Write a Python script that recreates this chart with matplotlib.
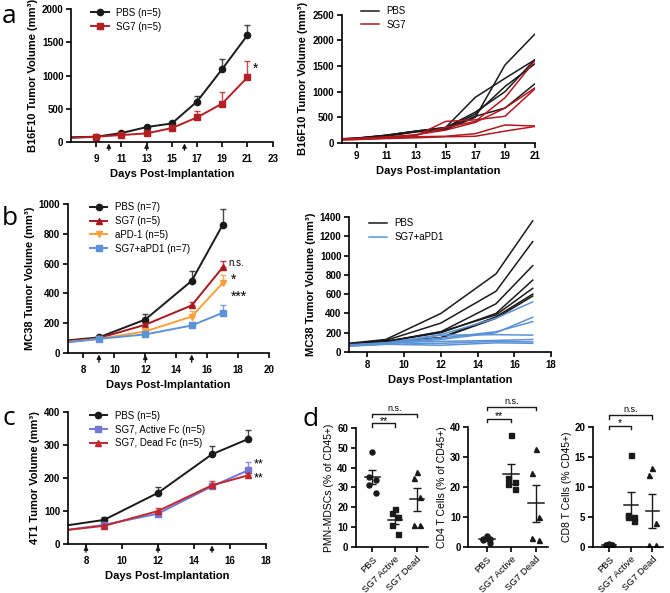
import numpy as np
import matplotlib
matplotlib.use('Agg')
import matplotlib.pyplot as plt
import matplotlib.transforms as mtransforms

plt.rcParams['font.family'] = ['Liberation Sans', 'DejaVu Sans']
plt.rcParams['font.size'] = 7
plt.rcParams['axes.linewidth'] = 1.2
plt.rcParams['xtick.major.width'] = 1.2
plt.rcParams['ytick.major.width'] = 1.2
plt.rcParams['xtick.major.size'] = 3.5
plt.rcParams['ytick.major.size'] = 3.5

BLACK = '#1a1a1a'

# panel a, B16F10 means
A_DAYS = [7, 9, 11, 13, 15, 17, 19, 21]
A_PBS = [72, 80, 135, 225, 280, 610, 1100, 1610]
A_PBS_ERR = [0, 10, 15, 20, 20, 80, 150, 150]
A_SG7 = [62, 80, 105, 130, 210, 370, 580, 975]
A_SG7_ERR = [0, 20, 15, 15, 15, 90, 170, 240]
A_DOSE = [10, 13, 16]

# panel a, individual mice
A_PBS_MICE = [
    [60, 90, 150, 230, 300, 890, 1260, 1620],
    [55, 85, 140, 220, 260, 500, 1520, 2120],
    [65, 90, 145, 225, 290, 560, 1100, 1540],
    [60, 80, 130, 215, 270, 520, 680, 1150],
    [70, 95, 150, 230, 300, 600, 1000, 1620],
]
A_SG7_MICE = [
    [60, 80, 110, 150, 300, 420, 880, 1600],
    [65, 85, 115, 160, 250, 400, 680, 1070],
    [60, 80, 105, 140, 420, 450, 520, 1050],
    [55, 70, 95, 120, 130, 180, 350, 330],
    [50, 65, 85, 100, 120, 130, 230, 320],
]

# panel b, MC38 means
B_DAYS = [7, 9, 12, 15, 17]
B_PBS = [85, 105, 225, 485, 860]
B_PBS_ERR = [0, 10, 35, 65, 110]
B_SG7 = [80, 100, 190, 320, 575]
B_SG7_ERR = [0, 8, 15, 25, 40]
B_PD1 = [75, 95, 145, 245, 470]
B_PD1_ERR = [0, 8, 15, 35, 55]
B_COMBO = [72, 95, 125, 185, 270]
B_COMBO_ERR = [0, 8, 10, 20, 50]
B_DOSE = [9, 12, 15]

# panel b, individual mice
B_PBS_MICE = [
    [90, 130, 400, 810, 1360],
    [85, 120, 300, 630, 1145],
    [80, 110, 210, 500, 895],
    [85, 110, 200, 400, 745],
    [80, 105, 210, 385, 660],
    [75, 100, 150, 365, 600],
    [80, 105, 145, 350, 580],
]
B_COMBO_MICE = [
    [75, 95, 180, 350, 520],
    [70, 90, 130, 200, 360],
    [70, 90, 145, 210, 315],
    [65, 85, 175, 180, 175],
    [70, 95, 110, 120, 130],
    [65, 80, 90, 110, 105],
    [60, 80, 70, 95, 90],
]

# panel c, 4T1 means
C_DAYS = [7, 9, 12, 15, 17]
C_PBS = [57, 73, 155, 272, 318]
C_PBS_ERR = [0, 8, 17, 24, 28]
C_ACTIVE = [43, 58, 92, 175, 223]
C_ACTIVE_ERR = [0, 6, 8, 10, 25]
C_DEAD = [43, 55, 100, 178, 208]
C_DEAD_ERR = [0, 5, 8, 12, 8]
C_DOSE = [8, 12, 15]

# panel d, flow cytometry
D_GROUPS = ['PBS', 'SG7 Active', 'SG7 Dead']
D_MDSC = [[48, 35.5, 34, 31, 27.4], [19, 17, 15, 11, 6.5], [38, 35, 25, 11, 11]]
D_CD4 = [[3.8, 2.6, 2.4, 1.2, 2.7], [37.2, 23, 21.5, 21, 19.2], [32.8, 24.5, 10, 2.3, 3.1]]
D_CD8 = [[0.5, 0.3, 0.4, 0.35, 0.3], [15.3, 4.4, 5.3, 5.0, 5.0], [13.1, 12.0, 4.0, 0.4, 0.4]]


def style(ax, xbold=True):
    ax.spines['top'].set_visible(False)
    ax.spines['right'].set_visible(False)
    ax.tick_params(labelsize=7, pad=2)
    for t in ax.get_yticklabels():
        t.set_fontweight('bold')
    if xbold:
        for t in ax.get_xticklabels():
            t.set_fontweight('bold')


def mean_curve(ax, x, y, err, color, marker, label, ms=4.5):
    ax.errorbar(x[1:], y[1:], yerr=[np.zeros(len(err) - 1), err[1:]], fmt='none',
                ecolor=color, elinewidth=1, capsize=2.5, capthick=1, alpha=0.8)
    ax.plot(x, y, color=color, lw=1.4, marker=marker, ms=ms,
            markevery=list(range(1, len(x))), label=label)


def dose_arrows(ax, days):
    for d in days:
        ax.annotate('', xy=(d, -0.01), xytext=(d, -0.062),
                    xycoords=('data', 'axes fraction'),
                    textcoords=('data', 'axes fraction'),
                    arrowprops=dict(arrowstyle='-|>', color=BLACK, lw=1,
                                    mutation_scale=6, shrinkA=0, shrinkB=0))


def leg(ax, x, y):
    ax.legend(loc='upper left', bbox_to_anchor=(x, y), frameon=False,
              fontsize=7, handlelength=1.8, labelspacing=0.4,
              handletextpad=0.8, borderaxespad=0)


def labels(ax, xl, yl):
    ax.set_xlabel(xl, fontsize=8, fontweight='bold', labelpad=4)
    ax.set_ylabel(yl, fontsize=8, fontweight='bold', labelpad=3)


fig = plt.figure(figsize=(6.7, 5.93), dpi=100)

# ---- a left ----
ax = fig.add_axes([0.106, 0.7605, 0.301, 0.224])
mean_curve(ax, A_DAYS, A_PBS, A_PBS_ERR, BLACK, 'o', 'PBS (n=5)')
mean_curve(ax, A_DAYS, A_SG7, A_SG7_ERR, '#B41F24', 's', 'SG7 (n=5)')
ax.set_xlim(7, 23)
ax.set_ylim(0, 2000)
ax.set_xticks(range(9, 24, 2))
ax.set_yticks(range(0, 2001, 500))
ax.text(21.6, 1110, '*', fontsize=10, ha='center', va='center')
dose_arrows(ax, A_DOSE)
labels(ax, 'Days Post-Implantation', 'B16F10 Tumor Volume (mm³)')
leg(ax, 0.08, 1.04)
style(ax)
ax.tick_params(axis='x', pad=5)

# ---- a right ----
ax = fig.add_axes([0.51, 0.759, 0.288, 0.216])
for m in A_PBS_MICE:
    ax.plot(A_DAYS, m, color=BLACK, lw=1.1)
for m in A_SG7_MICE:
    ax.plot(A_DAYS, m, color='#B2181E', lw=1.1)
ax.plot([], [], color=BLACK, lw=1.1, label='PBS')
ax.plot([], [], color='#B2181E', lw=1.1, label='SG7')
ax.set_xlim(8, 21)
ax.set_ylim(0, 2500)
ax.set_xticks(range(9, 22, 2))
ax.set_yticks(range(0, 2501, 500))
labels(ax, 'Days Post-implantation', 'B16F10 Tumor Volume (mm³)')
leg(ax, 0.08, 1.1)
style(ax)

# ---- b left ----
ax = fig.add_axes([0.1015, 0.4047, 0.300, 0.251])
mean_curve(ax, B_DAYS, B_PBS, B_PBS_ERR, BLACK, 'o', 'PBS (n=7)')
mean_curve(ax, B_DAYS, B_SG7, B_SG7_ERR, '#A8191F', '^', 'SG7 (n=5)')
mean_curve(ax, B_DAYS, B_PD1, B_PD1_ERR, '#F7A13B', 'v', 'aPD-1 (n=5)')
mean_curve(ax, B_DAYS, B_COMBO, B_COMBO_ERR, '#5B93D6', 's', 'SG7+aPD1 (n=7)')
ax.set_xlim(7, 20)
ax.set_ylim(0, 1000)
ax.set_xticks(range(8, 21, 2))
ax.set_yticks(range(0, 1001, 200))
ax.text(17.4, 605, 'n.s.', fontsize=7, ha='left', va='center')
ax.text(17.5, 495, '*', fontsize=10, ha='left', va='center')
ax.text(17.5, 375, '***', fontsize=10, ha='left', va='center')
dose_arrows(ax, B_DOSE)
labels(ax, 'Days Post-Implantation', 'MC38 Tumor Volume (mm³)')
leg(ax, 0.09, 1.04)
style(ax)
ax.tick_params(axis='x', pad=5)

# ---- b right ----
ax = fig.add_axes([0.521, 0.4064, 0.3015, 0.2277])
for m in B_PBS_MICE:
    ax.plot(B_DAYS, m, color=BLACK, lw=1.1)
for m in B_COMBO_MICE:
    ax.plot(B_DAYS, m, color='#5B93D6', lw=1.1)
ax.plot([], [], color=BLACK, lw=1.1, label='PBS')
ax.plot([], [], color='#5B93D6', lw=1.1, label='SG7+aPD1')
ax.set_xlim(7, 18)
ax.set_ylim(0, 1400)
ax.set_xticks(range(8, 19, 2))
ax.set_yticks(range(0, 1401, 200))
labels(ax, 'Days Post-Implantation', 'MC38 Tumor Volume (mm³)')
leg(ax, 0.08, 1.02)
style(ax)

# ---- c ----
ax = fig.add_axes([0.1015, 0.0826, 0.2955, 0.2226])
mean_curve(ax, C_DAYS, C_PBS, C_PBS_ERR, BLACK, 'o', 'PBS (n=5)')
mean_curve(ax, C_DAYS, C_ACTIVE, C_ACTIVE_ERR, '#7275D6', 's', 'SG7, Active Fc (n=5)')
mean_curve(ax, C_DAYS, C_DEAD, C_DEAD_ERR, '#C1272D', '^', 'SG7, Dead Fc (n=5)')
ax.set_xlim(7, 18)
ax.set_ylim(0, 400)
ax.set_xticks(range(8, 19, 2))
ax.set_yticks(range(0, 401, 100))
ax.text(17.3, 222, '**', fontsize=9, ha='left', va='bottom')
ax.text(17.3, 218, '**', fontsize=9, ha='left', va='top')
dose_arrows(ax, C_DOSE)
labels(ax, 'Days Post-Implantation', '4T1 Tumor Volume (mm³)')
leg(ax, 0.09, 1.04)
style(ax)
ax.tick_params(axis='x', pad=5)

# ---- d ----
markers = ['o', 's', '^']
jitter = np.array([0.0, -0.14, 0.14, -0.14, 0.14])


def dot_panel(rect, groups, ylabel, ymax, step, low, high, star):
    ax = fig.add_axes(rect)
    for i, vals in enumerate(groups):
        vals = np.array(vals)
        order = np.argsort(-vals)
        xs = np.empty(len(vals))
        xs[order] = i + jitter
        ax.plot(xs, vals, linestyle='none', marker=markers[i], color=BLACK, ms=3.6)
        m = vals.mean()
        sem = vals.std(ddof=1) / np.sqrt(len(vals))
        ax.plot([i - 0.32, i + 0.32], [m, m], color=BLACK, lw=1.1)
        ax.errorbar([i], [m], yerr=[[sem], [sem]], fmt='none', ecolor=BLACK,
                    elinewidth=1, capsize=3, capthick=1)
    tr = mtransforms.blended_transform_factory(ax.transData, ax.transAxes)
    for (a, b, y, s) in [(0, 1, low, star), (0, 2, high, 'n.s.')]:
        ax.plot([a, a, b, b], [y - 0.03, y, y, y - 0.03], color=BLACK, lw=1,
                transform=tr, clip_on=False)
        if s == 'n.s.':
            ax.text((a + b) / 2, y + 0.004, s, transform=tr, ha='center',
                    va='bottom', fontsize=6.5)
        else:
            ax.text((a + b) / 2, y - 0.02, s, transform=tr, ha='center',
                    va='bottom', fontsize=7.5)
    ax.set_xlim(-0.75, 2.5)
    ax.set_ylim(0, ymax)
    ax.set_yticks(np.arange(0, ymax + 0.1, step))
    ax.set_xticks(range(3))
    ax.set_xticklabels(D_GROUPS, rotation=45, ha='right', rotation_mode='anchor')
    ax.set_ylabel(ylabel, fontsize=7.5, labelpad=2)
    style(ax, xbold=False)
    for t in ax.get_xticklabels():
        t.set_fontsize(6.8)
    return ax


dot_panel([0.531, 0.0776, 0.108, 0.2007], D_MDSC, 'PMN-MDSCs (% of CD45+)', 60, 10, 1.04, 1.12, '**')
dot_panel([0.699, 0.0776, 0.119, 0.2024], D_CD4, 'CD4 T Cells (% of CD45+)', 40, 10, 1.07, 1.17, '**')
dot_panel([0.885, 0.0776, 0.105, 0.2024], D_CD8, 'CD8 T Cells (% CD45+)', 20, 5, 1.01, 1.10, '*')

for letter, x, y in [('a', 0.002, 0.962), ('b', 0.002, 0.621), ('c', 0.004, 0.284), ('d', 0.451, 0.281)]:
    fig.text(x, y, letter, fontsize=19, family=['Open Sans', 'DejaVu Sans'])

fig.savefig('out.png', dpi=100)
